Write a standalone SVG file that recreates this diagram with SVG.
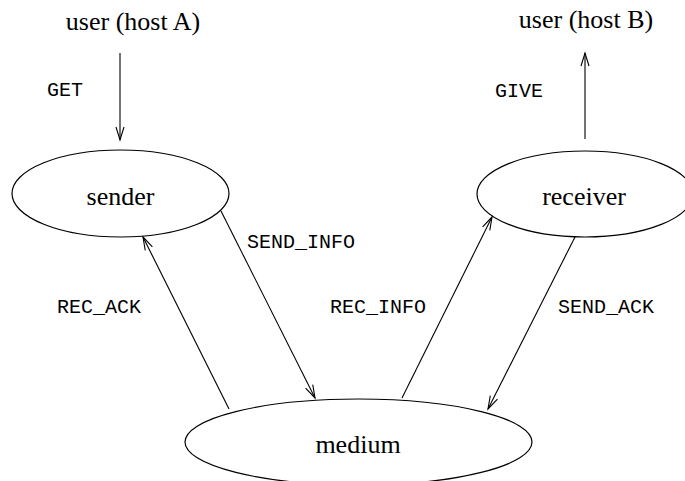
<svg xmlns="http://www.w3.org/2000/svg" width="685" height="481" viewBox="0 0 685 481">
<style>
.node ellipse{fill:none;stroke:#000;stroke-width:1.2}
.serif{font-family:"Liberation Serif","Times New Roman",serif;font-size:26px;fill:#000}
.mono{font-family:"Liberation Mono","Courier New",monospace;font-size:20px;fill:#000}
.edge{stroke:#000;stroke-width:1.1;fill:none;marker-end:url(#arr)}
</style>
<defs>
<marker id="arr" markerUnits="userSpaceOnUse" markerWidth="16" markerHeight="12" viewBox="-14 -6 16 12" refX="0" refY="0" orient="auto">
<path d="M-13,-4 L0,0 L-13,4" fill="none" stroke="#000" stroke-width="1.1"/>
</marker>
</defs>
<rect width="685" height="481" fill="#fff"/>
<g id="userA" class="node"><text class="serif" x="133" y="30" text-anchor="middle">user (host A)</text></g>
<g id="userB" class="node"><text class="serif" x="586" y="28" text-anchor="middle">user (host B)</text></g>
<g id="sender" class="node"><ellipse cx="120.5" cy="193.5" rx="108.5" ry="43.5"/><text class="serif" x="120.5" y="205" text-anchor="middle">sender</text></g>
<g id="receiver" class="node"><ellipse cx="585" cy="194" rx="108" ry="43"/><text class="serif" x="584" y="205" text-anchor="middle">receiver</text></g>
<g id="medium" class="node"><ellipse cx="358.5" cy="442" rx="173.5" ry="43"/><text class="serif" x="358" y="453" text-anchor="middle">medium</text></g>
<g id="connectors">
<line class="edge" x1="120" y1="53" x2="120" y2="140"/>
<line class="edge" x1="585" y1="139" x2="585" y2="53"/>
<line class="edge" x1="221" y1="211" x2="315" y2="398"/>
<line class="edge" x1="229" y1="409" x2="143" y2="237"/>
<line class="edge" x1="402" y1="398" x2="492" y2="217"/>
<line class="edge" x1="575" y1="237" x2="488" y2="409"/>
<text class="mono" x="47" y="96">GET</text>
<text class="mono" x="495" y="97">GIVE</text>
<text class="mono" x="247" y="248">SEND_INFO</text>
<text class="mono" x="57" y="313">REC_ACK</text>
<text class="mono" x="330" y="313">REC_INFO</text>
<text class="mono" x="558" y="313">SEND_ACK</text>
</g>
</svg>
